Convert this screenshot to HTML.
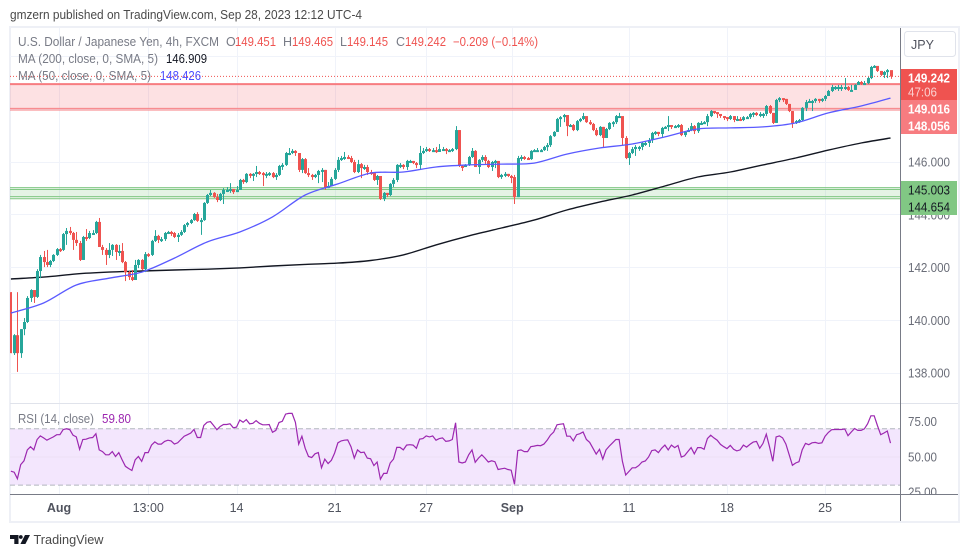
<!DOCTYPE html>
<html>
<head>
<meta charset="utf-8">
<title>USD/JPY chart</title>
<style>
html,body{margin:0;padding:0;background:#fff;width:970px;height:557px;overflow:hidden}
svg{display:block;font-family:"Liberation Sans",sans-serif}
</style>
</head>
<body>
<svg id="chart" width="970" height="557" viewBox="0 0 970 557" xmlns="http://www.w3.org/2000/svg">
<defs>
<clipPath id="plot-clip"><rect x="10" y="28" width="890" height="375"/></clipPath>
<clipPath id="axis-clip"><rect x="901" y="28" width="57" height="466"/></clipPath>
</defs>
<text x="10" y="19" font-size="13" fill="#4a4a4a" textLength="352" lengthAdjust="spacingAndGlyphs">gmzern published on TradingView.com, Sep 28, 2023 12:12 UTC-4</text>
<rect x="10" y="27" width="949" height="495" fill="#fff" stroke="#eef0f6" stroke-width="2"/>
<g id="grid"></g>
<g id="zones"></g>
<line x1="10" y1="403.5" x2="958" y2="403.5" stroke="#e0e3eb" stroke-width="1"/>
<g id="rsi-band"></g>
<g id="ma200" clip-path="url(#plot-clip)"></g>
<g id="candles" clip-path="url(#plot-clip)"></g>
<g id="ma50" clip-path="url(#plot-clip)"></g>
<g id="last-line"></g>
<g id="rsi"></g>
<line x1="900.5" y1="28" x2="900.5" y2="521" stroke="#787b86" stroke-width="1"/>
<line x1="10" y1="494.5" x2="958" y2="494.5" stroke="#787b86" stroke-width="1"/>
<g id="y-ticks" clip-path="url(#axis-clip)"></g>
<g id="x-ticks"></g>

<g font-size="12.5">
<text x="18" y="46" fill="#787b86" textLength="201" lengthAdjust="spacingAndGlyphs">U.S. Dollar / Japanese Yen, 4h, FXCM</text>
<text x="226" y="46" fill="#787b86">O</text>
<text x="235" y="46" fill="#ef5350" textLength="41" lengthAdjust="spacingAndGlyphs">149.451</text>
<text x="283" y="46" fill="#787b86">H</text>
<text x="292" y="46" fill="#ef5350" textLength="41" lengthAdjust="spacingAndGlyphs">149.465</text>
<text x="340" y="46" fill="#787b86">L</text>
<text x="347" y="46" fill="#ef5350" textLength="41" lengthAdjust="spacingAndGlyphs">149.145</text>
<text x="396" y="46" fill="#787b86">C</text>
<text x="405" y="46" fill="#ef5350" textLength="41" lengthAdjust="spacingAndGlyphs">149.242</text>
<text x="453" y="46" fill="#ef5350" textLength="85" lengthAdjust="spacingAndGlyphs">−0.209 (−0.14%)</text>
<text x="18" y="63" fill="#787b86" textLength="140" lengthAdjust="spacingAndGlyphs">MA (200, close, 0, SMA, 5)</text>
<text x="166" y="63" fill="#131722" textLength="41" lengthAdjust="spacingAndGlyphs">146.909</text>
<text x="18" y="80" fill="#787b86" textLength="133" lengthAdjust="spacingAndGlyphs">MA (50, close, 0, SMA, 5)</text>
<text x="160" y="80" fill="#4d4dff" textLength="41" lengthAdjust="spacingAndGlyphs">148.426</text>
<text x="18" y="423" fill="#787b86" textLength="76" lengthAdjust="spacingAndGlyphs">RSI (14, close)</text>
<text x="102" y="423" fill="#9c27b0" textLength="29" lengthAdjust="spacingAndGlyphs">59.80</text>
</g>

<g>
<rect x="904.5" y="31.5" width="51" height="25" rx="3" fill="#fff" stroke="#e0e3eb"/>
<text x="922.5" y="49" font-size="12.5" fill="#50535e" text-anchor="middle">JPY</text>
</g>

<g font-size="13" font-weight="bold" text-anchor="middle">
<rect x="901" y="69" width="56" height="31" fill="#ef5350"/>
<rect x="901" y="100" width="56" height="34" fill="#f77c80"/>
<rect x="901" y="181" width="56" height="34" fill="#81c784"/>
<text x="929" y="82.5" fill="#fff" textLength="42" lengthAdjust="spacingAndGlyphs">149.242</text>
<text x="922.5" y="96.5" fill="#fbd0d0" font-weight="normal" textLength="29" lengthAdjust="spacingAndGlyphs">47:06</text>
<text x="929" y="113.5" fill="#fff" textLength="42" lengthAdjust="spacingAndGlyphs">149.016</text>
<text x="929" y="130.5" fill="#fff" textLength="42" lengthAdjust="spacingAndGlyphs">148.056</text>
<text x="929" y="194.5" fill="#131722" font-weight="normal" textLength="42" lengthAdjust="spacingAndGlyphs">145.003</text>
<text x="929" y="211.5" fill="#131722" font-weight="normal" textLength="42" lengthAdjust="spacingAndGlyphs">144.654</text>
</g>

<g>
<path d="M10 535h8.5v9h-4.2v-5H10zM25 535h5l-4.6 9h-5z" fill="#131722"/>
<circle cx="20.8" cy="537" r="1.9" fill="#131722"/>
<text x="33.5" y="544" font-size="13" fill="#4a4a4a" textLength="70" lengthAdjust="spacingAndGlyphs">TradingView</text>
</g>
</svg>

<script>
const firstOpen = 141.07;
const closes = [138.76,139.44,138.76,139.67,139.94,140.85,141.15,140.89,141.87,142.40,142.21,142.10,142.25,142.48,142.70,142.67,143.27,143.39,143.31,143.05,142.93,142.29,143.16,143.12,143.31,143.31,143.73,142.78,142.67,142.48,142.67,142.86,142.59,142.63,142.21,141.83,141.64,141.53,142.10,142.29,141.94,142.51,142.48,143.01,143.20,143.05,143.08,143.31,143.35,143.31,143.16,143.24,143.35,143.61,143.69,143.80,144.03,143.77,143.80,144.45,144.75,144.83,144.67,144.56,144.79,144.94,144.94,144.98,144.86,144.94,145.32,145.24,145.55,145.51,145.55,145.62,145.58,145.55,145.55,145.58,145.43,145.51,145.85,145.89,146.34,146.34,146.42,146.34,145.70,146.11,145.58,145.51,145.43,145.51,145.66,145.70,145.01,145.09,
145.36,145.70,146.08,146.15,146.19,146.15,146.00,145.62,145.92,145.77,145.81,145.62,145.58,145.32,145.47,144.60,144.83,144.75,145.17,145.32,145.89,145.89,145.81,146.04,146.04,145.96,145.89,146.34,146.42,146.49,146.45,146.45,146.38,146.49,146.49,146.45,146.45,146.49,147.21,145.85,145.81,145.89,146.19,146.42,145.81,146.08,146.19,146.04,145.81,146.00,146.04,145.43,145.51,145.55,145.47,145.43,144.67,146.15,146.19,146.15,146.11,146.42,146.45,146.45,146.45,146.57,146.64,146.98,147.14,147.63,147.70,147.78,147.36,147.40,147.21,147.55,147.63,147.74,147.51,147.44,147.21,147.02,147.33,146.91,147.25,147.48,147.51,147.74,147.74,146.91,146.15,146.34,146.49,146.57,146.57,146.72,146.72,146.83,
147.10,147.14,147.06,147.29,147.33,147.40,147.33,147.36,147.40,147.02,147.14,147.21,147.36,147.17,147.48,147.48,147.51,147.74,147.93,147.89,147.82,147.74,147.70,147.63,147.74,147.59,147.63,147.59,147.70,147.70,147.82,147.86,147.78,147.82,147.82,148.12,147.86,147.48,148.35,148.42,148.39,148.20,147.93,147.48,147.55,147.59,148.05,148.27,148.31,148.31,148.39,148.35,148.39,148.50,148.69,148.84,148.84,148.84,148.84,148.84,148.73,148.73,148.92,149.03,148.99,148.99,149.18,149.60,149.64,149.45,149.30,149.41,149.48,149.24];
const highs = [141.07,139.48,141.07,139.67,140.09,140.92,141.18,141.15,141.94,142.48,142.63,142.67,142.29,142.51,142.74,142.74,143.31,143.50,143.54,143.35,143.35,143.01,143.20,143.46,143.39,143.42,143.77,143.88,142.86,142.74,142.93,142.89,142.89,142.86,142.93,142.25,141.87,141.91,142.29,142.32,142.32,142.59,142.55,143.05,143.42,143.24,143.16,143.35,143.39,143.39,143.35,143.31,143.42,143.65,143.73,143.84,144.07,144.10,143.88,144.48,144.79,144.94,144.86,144.79,144.83,145.01,145.05,145.20,144.94,145.09,145.36,145.36,145.58,145.58,145.58,145.85,145.66,145.62,145.62,145.62,145.62,145.58,145.89,145.96,146.38,146.53,146.49,146.45,146.34,146.15,146.15,145.77,145.55,145.55,145.70,145.77,145.70,145.24,
145.43,145.77,146.19,146.23,146.38,146.26,146.23,146.08,146.08,145.96,145.89,145.89,145.70,145.62,145.51,145.47,144.86,144.83,145.20,145.39,145.92,145.96,145.92,146.08,146.08,146.04,146.00,146.61,146.53,146.57,146.53,146.53,146.57,146.68,146.57,146.53,146.49,146.53,147.36,147.21,145.89,145.92,146.23,146.53,146.45,146.11,146.26,146.26,146.08,146.04,146.08,146.04,145.55,145.62,145.55,145.51,145.51,146.23,146.26,146.23,146.19,146.45,146.49,146.53,146.49,146.61,146.72,147.02,147.17,147.67,147.74,147.82,147.74,147.44,147.44,147.59,147.67,147.86,147.70,147.59,147.48,147.29,147.36,147.33,147.29,147.51,147.55,147.78,147.86,147.25,146.98,146.38,146.57,146.64,146.61,146.76,146.79,146.91,
147.14,147.17,147.14,147.33,147.36,147.74,147.40,147.40,147.44,147.44,147.17,147.29,147.48,147.40,147.51,147.55,147.55,147.82,147.97,147.93,147.89,147.78,147.74,147.70,147.78,147.74,147.74,147.70,147.74,147.74,147.86,147.89,147.89,147.89,147.86,148.16,148.16,147.86,148.39,148.46,148.42,148.39,148.20,147.93,147.59,147.63,148.08,148.35,148.39,148.35,148.42,148.39,148.42,148.54,148.73,148.92,148.88,148.92,148.92,149.18,148.88,148.92,148.95,149.07,149.07,149.07,149.22,149.64,149.67,149.60,149.45,149.45,149.52,149.47];
const lows = [138.76,138.69,138.05,138.58,139.44,139.90,140.70,140.66,140.85,141.60,142.02,142.02,142.02,142.21,142.44,142.59,142.63,142.86,143.24,142.67,142.82,142.25,142.29,143.01,143.08,143.27,143.27,142.78,142.48,142.10,142.36,142.44,142.29,142.44,142.17,141.49,141.53,141.49,141.53,141.98,141.91,141.83,142.40,142.44,142.97,142.93,142.97,143.01,143.27,143.20,143.12,142.97,143.20,143.31,143.54,143.65,143.77,143.73,143.24,143.77,144.41,144.71,144.64,144.48,144.52,144.41,144.86,144.83,144.79,144.86,144.94,145.17,145.20,145.39,145.28,145.43,145.51,145.09,145.39,145.47,145.39,145.32,145.47,145.70,145.85,146.26,146.30,146.23,145.62,145.58,145.55,145.43,145.32,145.39,145.20,145.24,144.94,145.01,
145.09,145.32,145.62,146.04,146.08,146.11,145.96,145.58,145.58,145.39,145.70,145.51,145.51,145.28,145.13,144.56,144.52,144.67,144.71,145.05,145.24,145.77,145.73,145.70,145.96,145.92,145.77,145.73,146.30,146.38,146.38,146.42,146.34,146.38,146.45,146.30,146.38,146.38,146.45,145.81,145.66,145.81,145.85,146.15,145.81,145.55,146.00,145.92,145.77,145.66,145.77,145.39,145.36,145.43,145.43,145.20,144.41,144.67,146.04,146.08,146.08,146.08,146.38,146.42,146.38,146.42,146.42,146.57,146.95,147.14,147.33,147.51,146.98,147.33,147.17,147.17,147.51,147.59,147.48,147.40,147.17,146.98,146.98,146.57,147.10,147.21,147.33,147.44,147.70,146.64,146.11,145.89,146.30,146.23,146.42,146.45,146.61,146.57,
146.72,147.02,146.98,146.95,147.25,147.17,147.25,147.29,147.29,146.98,146.95,147.14,147.17,147.06,147.10,147.40,147.44,147.36,147.70,147.82,147.67,147.67,147.59,147.55,147.59,147.51,147.55,147.55,147.55,147.63,147.63,147.70,147.74,147.70,147.67,147.74,147.82,147.44,147.48,148.27,148.27,148.16,147.89,147.29,147.44,147.48,147.55,147.93,148.24,147.93,148.24,148.24,148.27,148.31,148.50,148.65,148.73,148.69,148.69,148.73,148.69,148.69,148.73,148.95,148.92,148.95,148.95,149.14,149.56,149.41,149.26,149.18,149.18,149.15];
const maBars = [0,10,20,30,40,50,60,70,80,90,100,110,120,130,140,150,160,170,180,190,200,210,220,230,240,250,260,269];
const ma50Values = [140.28,140.66,141.34,141.60,141.83,142.36,142.97,143.35,143.92,144.75,145.17,145.58,145.62,145.81,145.89,145.92,145.96,146.30,146.53,146.68,146.95,147.25,147.29,147.33,147.48,147.86,148.12,148.42];
const ma200Values = [141.57,141.64,141.76,141.83,141.87,141.91,141.94,141.99,142.06,142.12,142.17,142.27,142.48,142.86,143.20,143.50,143.80,144.18,144.48,144.75,145.09,145.43,145.62,145.89,146.15,146.45,146.72,146.91];
const rsiValues = [39.9,39.2,34.6,44.6,47.3,55,57.3,55,62.4,64.9,63.5,61.9,63.1,64.2,65.8,65.8,69.5,70,69.3,65.4,64.2,55.4,62.4,62.6,63.5,63.8,66.5,55,53.8,51.5,51.5,53.8,50.3,53.1,48,43.4,41.8,40.4,48,50.3,46.9,53.1,53.1,58.4,60.7,59.1,59.1,61,61.9,61.4,59.1,60,62.4,64.7,65.8,67,69.5,63.8,63.8,72.3,74.6,75.1,72.3,69.3,71.6,73,73,73.5,70.7,71.2,76.2,74.6,76.5,73.5,73.9,75.8,73.9,72.8,72.8,73,67.5,68.8,74.4,75.3,80.4,80.9,80.9,74.6,59.1,64.7,56.1,50.3,49.6,52.2,53.1,42.3,48.5,45.3,47.6,
52.7,60,61.4,61.9,62.1,57.3,49.2,55,53.1,53.4,49.2,48.7,43.9,46.4,34.2,38.3,38.3,45.7,48.5,56.8,56.8,55,58.4,58.7,58.4,56.1,62.6,63,64.9,64.2,64.9,61.9,63,63.5,61,61.4,62.4,74.2,46.4,45.7,46.4,51.5,55,46.2,49.2,51.5,49.2,46.4,47.3,46.6,41.1,41.6,42,41.1,40.6,30.7,54.5,55,53.8,53.8,57.3,57.7,58.2,58,59.1,61.9,65.4,67.7,72.8,73.2,73.5,64.7,64.7,61.4,65.8,66.5,67.7,62.4,60.3,56.1,52,55.4,48.5,55,57.7,60,62.4,62.4,46.9,37.2,39.7,42.3,42.3,43.9,46.4,47.1,49.9,
54.5,55,53.1,56.1,58.4,55,58.4,56.6,58.2,49.9,50.8,53.8,56.6,52.2,56.6,56.6,55.4,63,65.4,63.5,61.9,58.9,57.3,55.9,58.2,55.4,54.3,55,58.4,57,58.9,60.5,61,56.1,59.6,66.1,57.3,46.9,64.2,64.9,63.5,59.1,51.5,44.1,45.7,46.6,55,59.6,58.7,60,60.3,59.6,60,64.7,67.4,69.3,69.5,69.5,69.5,69.8,65.1,67.7,70.2,68.8,68.8,70,73.5,79.2,79.2,72.3,65.8,67,68.4,59.8];
const priceTicks = [138,140,142,144,146,148];
const priceTickLabels = ["138.000","140.000","142.000","144.000","146.000","148.000"];
const rsiTicks = [75,50,25];
const rsiTickLabels = ["75.00","50.00","25.00"];
const timeTickBars = [14.7,42,69,99,127,153.3,189,219,249];
const timeTickLabels = ["Aug","13:00","14","21","27","Sep","11","18","25"];
const resistanceBand = [148.95,148.03];
const resistanceLower = 147.97;
const supportBand = [145.03,144.61];
const supportInner = [144.96,144.69];
const lastPrice = 149.242;
const rsiUpper = 70;
const rsiLower = 30;

const NS = "http://www.w3.org/2000/svg";
const xBar = i => 10.9 + 3.27 * i;
const yPrice = p => 162 + (146 - p) * 26.4;
const yRsi = v => 421.7 + (75 - v) * 1.41;
const box = id => document.getElementById(id);
function make(parent, tag, attrs) {
  const el = document.createElementNS(NS, tag);
  for (const k in attrs) el.setAttribute(k, attrs[k]);
  parent.appendChild(el);
  return el;
}

// grid
priceTicks.concat([150]).forEach(t => {
  const y = Math.floor(yPrice(t)) + 0.5;
  const el = make(box("grid"), "line", {x1: 10, x2: 900, y1: y, y2: y, stroke: "#f0f3fa"});
  
  
});
timeTickBars.forEach(b => {
  const x = Math.round(xBar(b)) + 0.5;
  const el = make(box("grid"), "line", {x1: x, x2: x, y1: 28, y2: 494, stroke: "#f0f3fa"});
  
  
});

// zones
(function () {
  const rFill = make(box("zones"), "rect", {x: 10, width: 890, y: yPrice(resistanceBand[0]), height: yPrice(resistanceBand[1]) - yPrice(resistanceBand[0]), fill: "rgba(242,54,69,0.15)"});
  
  
  resistanceBand.concat([resistanceLower]).forEach((p, i) => {
    const el = make(box("zones"), "line", {x1: 10, x2: 900, y1: yPrice(p), y2: yPrice(p), stroke: "#f77c80", "stroke-width": i === 0 ? 2 : 1});
    
    
  });
  const gFill = make(box("zones"), "rect", {x: 10, width: 890, y: yPrice(supportBand[0]), height: yPrice(supportBand[1]) - yPrice(supportBand[0]), fill: "rgba(76,175,80,0.15)"});
  
  
  supportBand.concat(supportInner).forEach(p => {
    const el = make(box("zones"), "line", {x1: 10, x2: 900, y1: yPrice(p), y2: yPrice(p), stroke: "#81c784", "stroke-width": 1});
    
    
  });
})();

// moving averages: smooth curve through the sampled values
function maPath(values) {
  const pts = values.map((v, k) => [xBar(maBars[k]), yPrice(v)]);
  let d = "M" + pts[0][0].toFixed(1) + " " + pts[0][1].toFixed(1);
  for (let i = 0; i < pts.length - 1; i++) {
    const p0 = pts[Math.max(0, i - 1)], p1 = pts[i], p2 = pts[i + 1], p3 = pts[Math.min(pts.length - 1, i + 2)];
    const c1x = p1[0] + (p2[0] - p0[0]) / 6, c1y = p1[1] + (p2[1] - p0[1]) / 6;
    const c2x = p2[0] - (p3[0] - p1[0]) / 6, c2y = p2[1] - (p3[1] - p1[1]) / 6;
    d += "C" + c1x.toFixed(1) + " " + c1y.toFixed(1) + " " + c2x.toFixed(1) + " " + c2y.toFixed(1) + " " + p2[0].toFixed(1) + " " + p2[1].toFixed(1);
  }
  return d;
}
const ma200Line = make(box("ma200"), "path", {d: maPath(ma200Values), fill: "none", stroke: "#131722", "stroke-width": 1.4});


const ma50Line = make(box("ma50"), "path", {d: maPath(ma50Values), fill: "none", stroke: "#5a5aff", "stroke-width": 1.3});



// candles
closes.forEach((c, i) => {
  const o = i === 0 ? firstOpen : closes[i - 1];
  const up = c >= o;
  const col = up ? "#26a69a" : "#ef5350";
  const x = Math.round(xBar(i));
  const wick = make(box("candles"), "rect", {x: x, width: 1, y: yPrice(highs[i]), height: Math.max(1, yPrice(lows[i]) - yPrice(highs[i])), fill: col});
  
  
  const top = yPrice(Math.max(o, c));
  const h = Math.max(2, Math.abs(yPrice(o) - yPrice(c)));
  const body = make(box("candles"), "rect", {x: x - 1, width: i === 0 ? 2 : 3, y: top, height: h, fill: col});
  
  
});

// last price line
const lastLine = make(box("last-line"), "line", {x1: 10, x2: 900, y1: yPrice(lastPrice), y2: yPrice(lastPrice), stroke: "#ef5350", "stroke-width": 1, "stroke-dasharray": "1 2"});



// RSI
const band = make(box("rsi-band"), "rect", {x: 10, width: 890, y: yRsi(rsiUpper), height: yRsi(rsiLower) - yRsi(rsiUpper), fill: "#f3e6fd"});


[rsiUpper, rsiLower].forEach(v => {
  const el = make(box("rsi-band"), "line", {x1: 10, x2: 900, y1: yRsi(v), y2: yRsi(v), stroke: "#b2b5be", "stroke-dasharray": "5 3"});
  
  
});
const midLine = make(box("rsi-band"), "line", {x1: 10, x2: 900, y1: yRsi(50), y2: yRsi(50), stroke: "#ece0f5"});


const rsiLine = make(box("rsi"), "polyline", {points: rsiValues.map((v, i) => xBar(i).toFixed(1) + "," + yRsi(v).toFixed(1)).join(" "), fill: "none", stroke: "#9c27b0", "stroke-width": 1.2});



// ticks
priceTicks.forEach((t, i) => {
  if (t === 148) return;
  const el = make(box("y-ticks"), "text", {x: 929, y: yPrice(t) + 4.5, "font-size": 13, fill: "#6a6d78", "text-anchor": "middle", textLength: 42, lengthAdjust: "spacingAndGlyphs"});
  
  
  el.textContent = priceTickLabels[i];
});
rsiTicks.forEach((v, i) => {
  const el = make(box("y-ticks"), "text", {x: 922.5, y: yRsi(v) + 4.5, "font-size": 13, fill: "#6a6d78", "text-anchor": "middle", textLength: 29, lengthAdjust: "spacingAndGlyphs"});
  
  
  el.textContent = rsiTickLabels[i];
});
timeTickBars.forEach((b, i) => {
  const bold = timeTickLabels[i] === "Aug" || timeTickLabels[i] === "Sep";
  const el = make(box("x-ticks"), "text", {x: xBar(b), y: 512, "font-size": 12.5, fill: "#50535e", "text-anchor": "middle", "font-weight": bold ? "bold" : "normal"});
  
  
  el.textContent = timeTickLabels[i];
});
</script>
</body>
</html>
